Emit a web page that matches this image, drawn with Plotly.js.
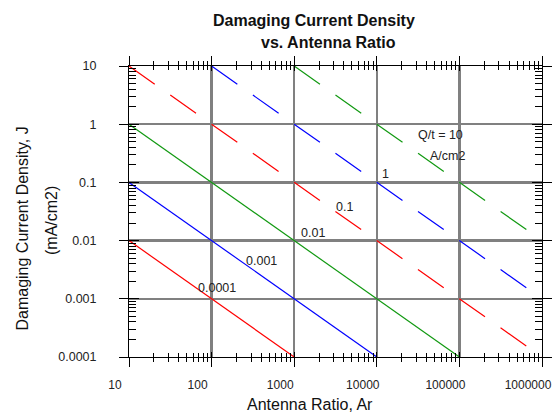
<!DOCTYPE html>
<html>
<head>
<meta charset="utf-8">
<script src="https://cdn.plot.ly/plotly-3.0.1.min.js"></script>
<style>
  html, body { margin: 0; padding: 0; background: #fff; }
  #chart { width: 552px; height: 412px; }
</style>
</head>
<body>
<div id="chart"></div>
<script>
// ---- data ----
// Q/t (A/cm2) for each line; J (mA/cm2) = 1000 * Q/t / Ar
const qtValues = [0.0001, 0.001, 0.01, 0.1, 1, 10];
const lineX1 = [10, 1000];      const lineY1 = [0.01, 0.0001];
const lineX2 = [10, 10000];     const lineY2 = [0.1, 0.0001];
const lineX3 = [10, 100000];    const lineY3 = [1, 0.0001];
const lineX4 = [10, 1000000];   const lineY4 = [10, 0.0001];
const lineX5 = [100, 1000000];  const lineY5 = [10, 0.001];
const lineX6 = [1000, 1000000]; const lineY6 = [10, 0.01];

const labelText = ['0.0001', '0.001', '0.01', '0.1', '1', 'Q/t = 10', 'A/cm2'];
const labelX = [117, 404, 1690, 4120, 12900, 59800, 72100];
const labelY = [0.00151, 0.00452, 0.01368, 0.0373, 0.1377, 0.644, 0.284];

const xTickVals = [10, 100, 1000, 10000, 100000, 1000000];
const xTickText = ['10', '100', '1000', '10000', '100000', '1000000'];
const yTickVals = [0.0001, 0.001, 0.01, 0.1, 1, 10];
const yTickText = ['0.0001', '0.001', '0.01', '0.1', '1', '10'];

// ---- styling ----
const FONT = 'Arial, "Liberation Sans", Helvetica, sans-serif';
const lineColors = ['#ff0000', '#0000ff', '#119911', '#ff0000', '#0000ff', '#119911'];
const lineDash = ['solid', 'solid', 'solid', '31.5px,19px', '31.5px,19px', '31.5px,19px'];

function minorVals(majors) {
  const out = [];
  for (let i = 0; i < majors.length - 1; i++) {
    for (let k = 2; k <= 9; k++) out.push(majors[i] * k);
  }
  return out;
}
const xMinor = minorVals(xTickVals);
const yMinor = minorVals(yTickVals);

const xs = [lineX1, lineX2, lineX3, lineX4, lineX5, lineX6];
const ys = [lineY1, lineY2, lineY3, lineY4, lineY5, lineY6];

const traces = xs.map((x, i) => ({
  x: x, y: ys[i], type: 'scatter', mode: 'lines',
  name: 'Q/t = ' + qtValues[i],
  line: { color: lineColors[i], width: 1.2, dash: lineDash[i] },
  hoverinfo: 'skip'
}));
// empty helper trace so the overlay axes (extra inside ticks) are drawn
traces.push({ x: [], y: [], xaxis: 'x2', yaxis: 'y2', type: 'scatter', mode: 'lines', hoverinfo: 'skip', showlegend: false });

const annotations = labelText.map((t, i) => ({
  text: t, x: Math.log10(labelX[i]), y: Math.log10(labelY[i]),
  xref: 'x', yref: 'y', showarrow: false,
  xanchor: 'center', yanchor: 'middle',
  font: { family: FONT, size: 12.5, color: '#222' }
}));

// titles placed in paper coordinates
annotations.push(
  { text: '<b>Damaging Current Density</b>', xref: 'paper', yref: 'paper', x: 0.449, y: 1.158,
    xanchor: 'center', yanchor: 'middle', showarrow: false, font: { family: FONT, size: 16, color: '#111' } },
  { text: '<b>vs. Antenna Ratio</b>', xref: 'paper', yref: 'paper', x: 0.484, y: 1.0808,
    xanchor: 'center', yanchor: 'middle', showarrow: false, font: { family: FONT, size: 16, color: '#111' } },
  { text: 'Antenna Ratio, Ar', xref: 'paper', yref: 'paper', x: 0.438, y: -0.1632,
    xanchor: 'center', yanchor: 'middle', showarrow: false, font: { family: FONT, size: 16, color: '#111' } },
  { text: 'Damaging Current Density, J', xref: 'paper', yref: 'paper', x: -0.259, y: 0.4416, textangle: -90,
    xanchor: 'center', yanchor: 'middle', showarrow: false, font: { family: FONT, size: 16, color: '#111' } },
  { text: '(mA/cm2)', xref: 'paper', yref: 'paper', x: -0.1864, y: 0.4674, textangle: -90,
    xanchor: 'center', yanchor: 'middle', showarrow: false, font: { family: FONT, size: 16, color: '#111' } }
);

const commonX = {
  type: 'log', range: [1, 6], tickmode: 'array', tickvals: xTickVals, zeroline: false, fixedrange: true
};
const commonY = {
  type: 'log', range: [-4, 1], tickmode: 'array', tickvals: yTickVals, zeroline: false, fixedrange: true
};

const layout = {
  width: 552, height: 412,
  margin: { l: 129, r: 10, t: 66, b: 55, pad: 0 },
  paper_bgcolor: '#ffffff', plot_bgcolor: '#ffffff',
  showlegend: false,
  font: { family: FONT, color: '#222' },
  xaxis: Object.assign({}, commonX, {
    ticktext: xTickText,
    ticks: 'outside', ticklen: 9, tickwidth: 1, tickcolor: '#000',
    showline: true, linecolor: '#000', linewidth: 1, mirror: 'ticks',
    showgrid: true, gridcolor: '#808080', gridwidth: 2.5,
    minor: { tickmode: 'array', tickvals: xMinor, ticks: 'outside', ticklen: 4, tickwidth: 1, tickcolor: '#000', showgrid: false },
    tickfont: { family: FONT, size: 12, color: '#222' },
    ticklabelshift: -14, ticklabelstandoff: 8, ticklabeloverflow: 'allow'
  }),
  yaxis: Object.assign({}, commonY, {
    ticktext: yTickText,
    ticks: 'outside', ticklen: 9, tickwidth: 1, tickcolor: '#000',
    showline: true, linecolor: '#000', linewidth: 1, mirror: 'ticks',
    showgrid: true, gridcolor: '#808080', gridwidth: 2.5,
    minor: { tickmode: 'array', tickvals: yMinor, ticks: 'inside', ticklen: 7, tickwidth: 1, tickcolor: '#000', showgrid: false },
    tickfont: { family: FONT, size: 12.5, color: '#222' },
    ticklabelstandoff: 20, ticklabeloverflow: 'allow'
  }),
  xaxis2: Object.assign({}, commonX, {
    overlaying: 'x', anchor: 'y', side: 'bottom',
    showticklabels: false, ticks: 'inside', ticklen: 5, tickwidth: 1, tickcolor: '#000',
    showline: true, linecolor: '#000', linewidth: 1, mirror: 'ticks', showgrid: false,
    minor: { tickmode: 'array', tickvals: xMinor, ticks: 'inside', ticklen: 4, tickwidth: 1, tickcolor: '#000', showgrid: false }
  }),
  yaxis2: Object.assign({}, commonY, {
    overlaying: 'y', anchor: 'x', side: 'left',
    showticklabels: false, ticks: 'inside', ticklen: 10, tickwidth: 1, tickcolor: '#000',
    showline: true, linecolor: '#000', linewidth: 1, mirror: 'ticks', showgrid: false
  }),
  annotations: annotations
};

Plotly.newPlot('chart', traces, layout, { displayModeBar: false, staticPlot: true });
</script>
</body>
</html>
